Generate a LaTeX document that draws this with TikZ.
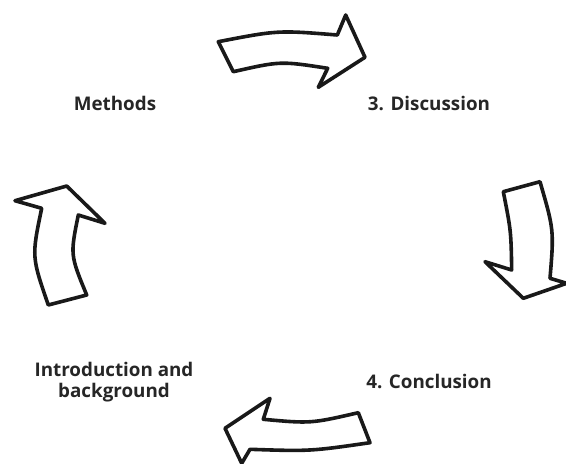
\documentclass[tikz,border=0pt]{standalone}
\usepackage{fontspec}
\setmainfont{Open Sans}
\begin{document}
\begin{tikzpicture}[x=1pt,y=-1pt,
  blockarrow/.style={draw=black!90,line width=3.6pt,line join=round,fill=white},
  label/.style={font=\bfseries\fontsize{18.8}{21.5}\selectfont,text=black!85,align=center,inner sep=0pt}]
\path[use as bounding box,fill=white] (0,0) rectangle (566,464);
\begin{scope}
\clip (0,0) rectangle (566,464);
% top arrow (right)
\draw[blockarrow] (218.3,41.7) .. controls (277.8,30.2) .. (337.3,35)
  -- (345.7,15) -- (365,57.3) -- (318.3,87.3) -- (327.7,68.3)
  .. controls (280.5,61) .. (233.3,71.7) -- cycle;
% right arrow (down)
\draw[blockarrow] (503.3,191.7) -- (540,181.7) .. controls (554,230) .. (550,278.3)
  -- (566.7,283.3) -- (523.3,298.3) -- (485,261.7) -- (511.7,270)
  .. controls (511,230.8) .. cycle;
% bottom arrow (left)
\draw[blockarrow] (358.3,412.7) .. controls (310.8,423.6) .. (263.3,419.3)
  -- (270,398.3) -- (225,428.3) -- (241.7,463.3) -- (250,449.3)
  .. controls (310,451.3) .. (370,442.7) -- cycle;
% left arrow (up)
\draw[blockarrow] (48.3,305) -- (86.7,295) .. controls (70.2,255) .. (78.3,215)
  -- (105,223.3) -- (66.7,186) -- (15,200.7) -- (41.7,208.3)
  .. controls (31.6,256.7) .. cycle;
\end{scope}
\node[label] (methods) at (115,103) {Methods};
\node[label] (discussion) at (429,103) {3. Discussion};
\node[label] (intro) at (114,382) {Introduction and\\background};
\node[label] (conclusion) at (429,381.5) {4. Conclusion};
\end{tikzpicture}
\end{document}
